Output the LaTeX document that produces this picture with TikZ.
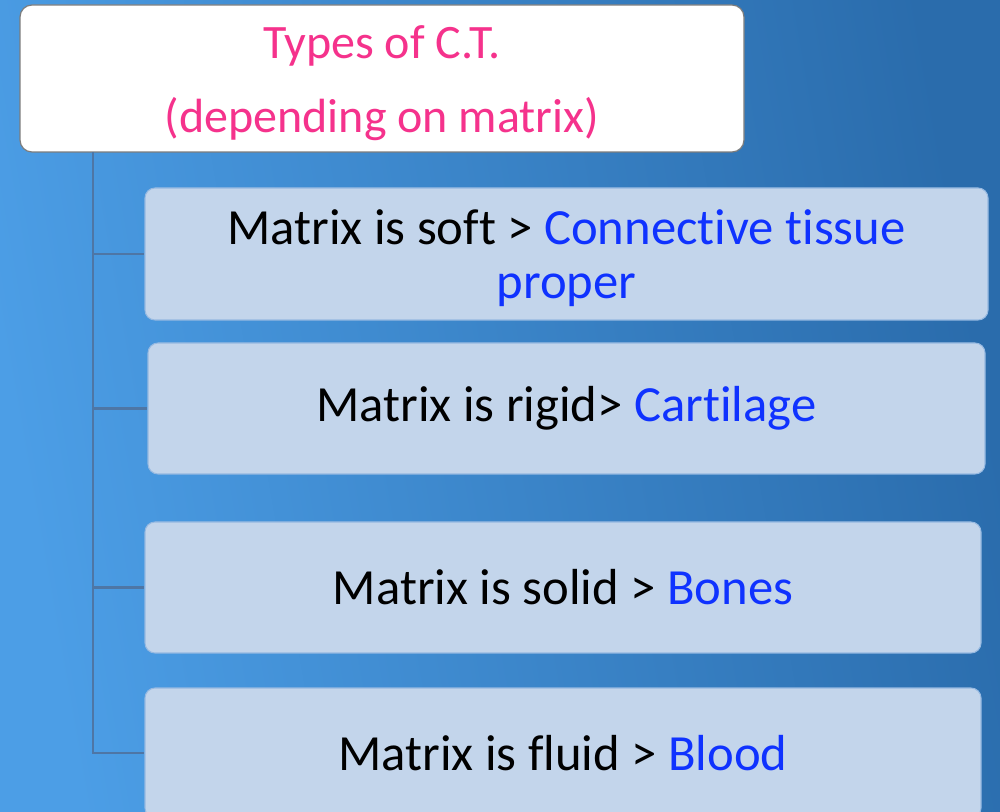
\documentclass[tikz,border=0pt]{standalone}
\usepackage{fontspec}
\setmainfont{Carlito}[Ligatures=NoCommon]
\definecolor{bgA}{RGB}{76,158,230}
\definecolor{bgB}{RGB}{42,108,172}
\definecolor{boxfill}{RGB}{195,213,235}
\definecolor{boxedge}{RGB}{150,185,225}
\definecolor{linec}{RGB}{78,118,165}
\definecolor{pinkt}{RGB}{245,50,140}
\definecolor{bluet}{RGB}{15,50,255}
\definecolor{topedge}{RGB}{125,125,125}
\begin{document}
\begin{tikzpicture}[x=0.75pt,y=-0.75pt,
  itembox/.style={draw=boxedge,line width=0.8pt,fill=boxfill,rounded corners=7.5pt,
    inner sep=0pt,align=center,font=\fontsize{38}{41}\selectfont},
  titlebox/.style={draw=topedge,line width=0.9pt,fill=white,rounded corners=9pt,
    inner sep=0pt},
  titletext/.style={inner sep=0pt,align=center,text=pinkt,font=\fontsize{36}{55.5}\selectfont},
  conn/.style={draw=linec,line width=2.2pt}]
\shade[left color=bgA,right color=bgB,shading angle=100] (0,0) rectangle (1000,812);
\useasboundingbox (0,0) rectangle (1000,812);
\node[titlebox,minimum width={724*0.75pt},minimum height={147*0.75pt},
  label={[titletext,name=toptext,yshift=-3.8pt]center:{Types of C.T.\\(depending on matrix)}}] (top) at (382,78.5) {};
\node[itembox,minimum width={843*0.75pt},minimum height={132*0.75pt},
  label={[itembox,draw=none,fill=none,name=b1text,yshift=-3pt]center:{Matrix is soft > \textcolor{bluet}{Connective tissue}\\\textcolor{bluet}{proper}}}] (b1) at (566.5,254) {};
\node[itembox,minimum width={837*0.75pt},minimum height={131*0.75pt}] (b2) at (566.5,408.5)
  {Matrix is rigid> \textcolor{bluet}{Cartilage}};
\node[itembox,minimum width={836*0.75pt},minimum height={131*0.75pt}] (b3) at (563,587.5)
  {Matrix is solid > \textcolor{bluet}{Bones}};
\node[itembox,minimum width={836*0.75pt},minimum height={130*0.75pt}] (b4) at (563,753)
  {Matrix is fluid > \textcolor{bluet}{Blood}};
\coordinate (t) at (93,152);
\draw[conn] (t) |- (b4.west);
\draw[conn] (t|-b1.west) -- (b1.west);
\draw[conn] (t|-b2.west) -- (b2.west);
\draw[conn] (t|-b3.west) -- (b3.west);
\end{tikzpicture}
\end{document}
